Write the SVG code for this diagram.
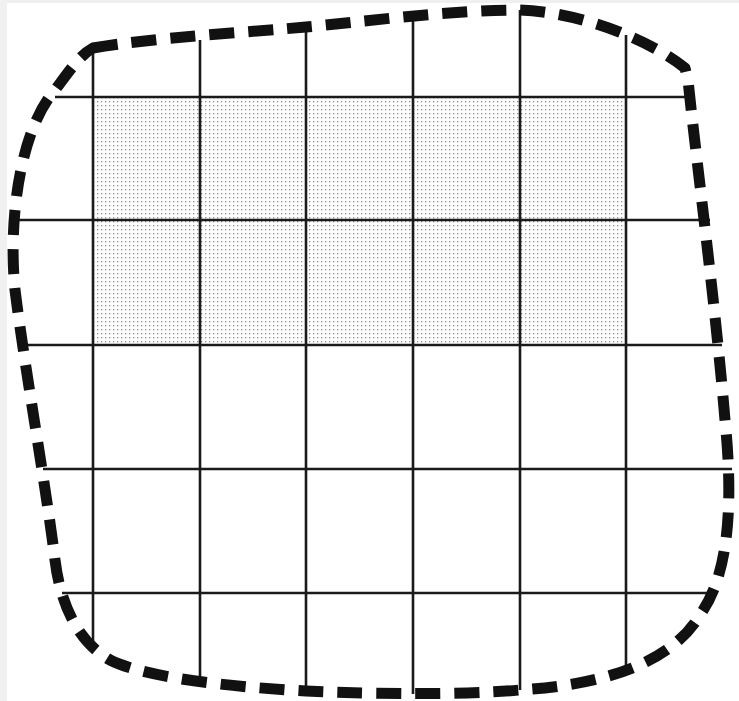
<svg xmlns="http://www.w3.org/2000/svg" width="739" height="701" viewBox="0 0 739 701">
<style>
.grid{stroke:#1a1a1a;stroke-width:2.6;fill:none}
.blob{stroke:#111;stroke-width:11;fill:none;stroke-dasharray:25 14;stroke-linejoin:round}
</style>
<defs>
<pattern id="dots" width="4" height="4" patternUnits="userSpaceOnUse">
<rect x="1" y="1" width="1.3" height="1.3" fill="#8a8a8a"/>
</pattern>
</defs>
<rect width="739" height="701" fill="#ffffff"/>
<rect x="0" y="0" width="739" height="3" fill="#efefef"/>
<rect x="0" y="0" width="7" height="701" fill="#f1f1f1"/>
<g id="shaded">
<rect x="93" y="97" width="533" height="248" fill="url(#dots)"/>
</g>
<g id="grid">
<line class="grid" x1="93" y1="50" x2="93" y2="643"/>
<line class="grid" x1="200" y1="40" x2="200" y2="682"/>
<line class="grid" x1="306" y1="28" x2="306" y2="690"/>
<line class="grid" x1="413" y1="14" x2="413" y2="694"/>
<line class="grid" x1="520" y1="10" x2="520" y2="690"/>
<line class="grid" x1="626" y1="35" x2="626" y2="667"/>
<line class="grid" x1="55" y1="97" x2="687" y2="97"/>
<line class="grid" x1="16" y1="220" x2="710" y2="220"/>
<line class="grid" x1="28" y1="345" x2="722" y2="345"/>
<line class="grid" x1="43" y1="469" x2="732" y2="469"/>
<line class="grid" x1="62" y1="593" x2="708" y2="593"/>
</g>
<g id="boundary">
<path class="blob" d="M 93 48 C 150 38, 250 32, 306 27 C 360 22, 450 10, 520 10 C 580 12, 650 40, 685 68 L 688 80 C 695 150, 715 300, 725 420 C 735 520, 725 580, 700 615 C 670 665, 600 685, 520 690 C 450 696, 350 693, 306 691 C 250 688, 150 680, 110 660 C 75 640, 60 600, 55 560 C 45 480, 25 370, 15 290 C 8 220, 20 130, 55 90 C 70 70, 80 55, 93 48 Z"/>
</g>
</svg>
